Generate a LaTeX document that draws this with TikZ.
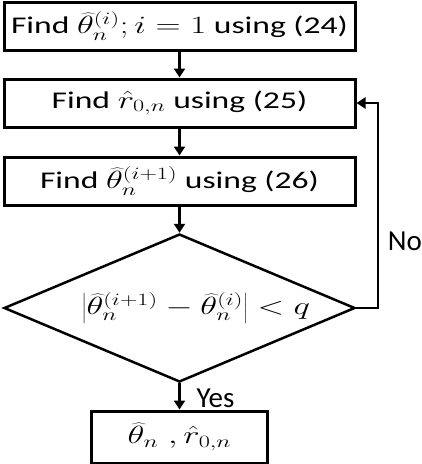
\documentclass[tikz,border=0pt]{standalone}
\usepackage{fontspec}
\usepackage{graphicx}
\setmainfont{Carlito}
\usetikzlibrary{shapes.geometric,arrows.meta}
\newcommand{\wide}[1]{\scalebox{1.4}[1]{#1}}
\begin{document}
\begin{tikzpicture}[x=1pt,y=-1pt,line cap=round,>={Triangle[width=11pt,length=9pt]},
	font=\fontsize{24}{28}\selectfont,
	stepbox/.style={draw,line width=3pt,minimum width=351pt,minimum height=48pt,inner sep=0pt},
	testbox/.style={draw,diamond,line width=2.5pt,aspect=2.4,minimum width=351pt,minimum height=148pt,inner sep=0pt},
	flow/.style={->,line width=2.5pt},
	tag/.style={font=\fontsize{29}{32}\selectfont}]
	\useasboundingbox (0,0) rectangle (422,464);
	\node[stepbox] (init) at (179.5,26) {\wide{Find $\widehat{\theta}_n^{(i)}; i=1$ using (24)}};
	\node[stepbox] (rfind) at (179.5,103) {\wide{Find $\hat{r}_{0,n}$ using (25)}\hspace{14pt}};
	\node[stepbox] (tfind) at (179.5,181) {\wide{Find $\widehat{\theta}_n^{(i+1)}$ using (26)}};
	\node[testbox] (test) at (179.5,308) {};
	\node (cond) at (196,308) {\wide{$\left|\widehat{\theta}_n^{(i+1)}-\widehat{\theta}_n^{(i)}\right|<q$}};
	\node[stepbox,minimum width=176pt,minimum height=52pt] (result) at (179.5,437) {\wide{$\widehat{\theta}_n\;,\hat{r}_{0,n}$}};
	\coordinate (back) at (378,308);
	% main path
	\draw[flow] (init) -- (rfind);
	\draw[flow] (rfind) -- (tfind);
	\draw[flow] (tfind) -- (test);
	\draw[flow] (test) -- (result);
	\node[tag] (yes) at (193,398) [right] {Yes};
	% loop back
	\draw[flow] (test.east) -- (back) |- (rfind.east);
	\node[tag] (no) at (405,241) {No};
\end{tikzpicture}
\end{document}
